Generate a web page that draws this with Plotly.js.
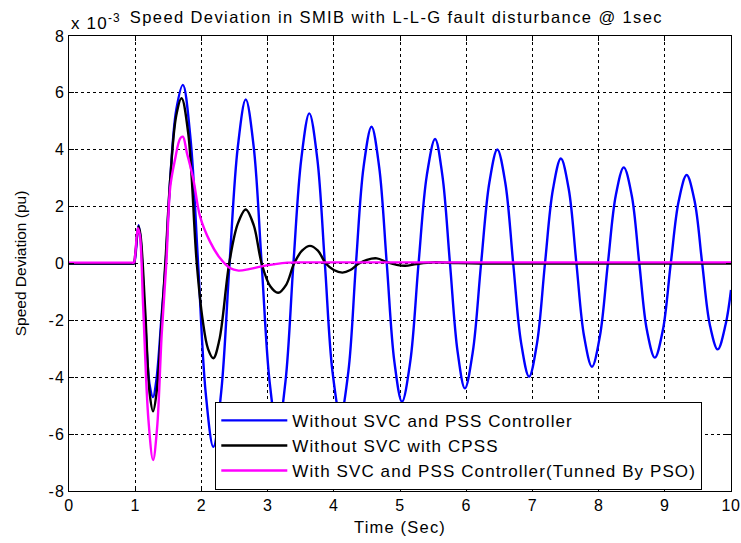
<!DOCTYPE html>
<html>
<head>
<meta charset="utf-8">
<script src="https://cdn.plot.ly/plotly-3.0.1.min.js"></script>
<style>
body{margin:0;padding:0;background:#fff;}
#chart{width:741px;height:543px;}
.gtitle{letter-spacing:1.4px;}
.legendtext{letter-spacing:1.1px;}
.xtitle{letter-spacing:1.2px;}
.xtick text{letter-spacing:0.5px;}
.ytick text{letter-spacing:1px;}
.annotation-text{letter-spacing:1.2px;}
</style>
</head>
<body>
<div id="chart"></div>
<script>
// Speed deviation values in units of 1e-3 pu
var blueT = [0, 0.5, 0.95, 0.98, 1.00, 1.05, 1.08, 1.15, 1.22, 1.27, 1.32, 1.40, 1.46, 1.53, 1.62, 1.72, 1.835, 1.95, 2.065, 2.18, 2.30, 2.425, 2.55, 2.67, 2.79, 2.91, 3.03, 3.15, 3.27, 3.39, 3.51, 3.63, 3.75, 3.865, 3.98, 4.10, 4.22, 4.335, 4.45, 4.57, 4.685, 4.80, 4.915, 5.03, 5.155, 5.28, 5.405, 5.53, 5.64, 5.755, 5.87, 5.98, 6.10, 6.225, 6.35, 6.47, 6.59, 6.71, 6.83, 6.95, 7.07, 7.19, 7.31, 7.43, 7.55, 7.665, 7.78, 7.90, 8.02, 8.14, 8.26, 8.38, 8.50, 8.615, 8.73, 8.85, 8.97, 9.09, 9.21, 9.33, 9.45, 9.565, 9.68, 9.80, 9.92, 10.0];
var blueV = [0, 0, 0, 0, 0.2, 1.35, 0.9, -2.0, -4.3, -4.7, -4.1, -1.8, 0, 3.0, 5.4, 6.28, 4.4, 0, -4.55, -6.45, -4.5, 0, 4.1, 5.77, 4.1, 0, -4.15, -5.9, -4.15, 0, 3.7, 5.28, 3.7, 0, -3.8, -5.35, -3.8, 0, 3.4, 4.81, 3.4, 0, -3.45, -4.86, -3.45, 0, 3.1, 4.38, 3.1, 0, -3.1, -4.39, -3.1, 0, 2.85, 4.01, 2.85, 0, -2.8, -3.98, -2.8, 0, 2.6, 3.69, 2.6, 0, -2.55, -3.63, -2.55, 0, 2.4, 3.38, 2.4, 0, -2.35, -3.31, -2.35, 0, 2.2, 3.11, 2.2, 0, -2.15, -3.02, -2.13, -0.93];

var blackT = [0, 0.5, 0.95, 0.98, 1.00, 1.05, 1.08, 1.15, 1.22, 1.27, 1.32, 1.40, 1.46, 1.53, 1.62, 1.70, 1.80, 1.93, 2.02, 2.10, 2.18, 2.27, 2.42, 2.55, 2.67, 2.79, 2.91, 3.04, 3.16, 3.28, 3.40, 3.52, 3.64, 3.76, 3.88, 4.00, 4.13, 4.25, 4.38, 4.50, 4.65, 4.80, 4.95, 5.08, 5.25, 5.50, 5.80, 6.20, 8.0, 10.0];
var blackV = [0, 0, 0, 0, 0.3, 1.3, 1.0, -1.6, -4.6, -5.2, -4.6, -2.0, 0.2, 3.0, 5.2, 5.81, 4.6, 0, -2.0, -3.0, -3.33, -2.7, 0, 1.4, 1.9, 1.35, 0, -0.8, -1.03, -0.75, 0, 0.45, 0.62, 0.45, 0, -0.23, -0.32, -0.23, 0, 0.13, 0.18, 0.05, -0.05, -0.08, -0.02, 0.04, 0.02, 0.0, 0.0, 0.0];

var magT = [0, 0.5, 0.95, 0.98, 1.00, 1.04, 1.07, 1.12, 1.20, 1.27, 1.33, 1.40, 1.47, 1.53, 1.60, 1.68, 1.72, 1.78, 1.88, 1.98, 2.13, 2.28, 2.43, 2.56, 2.72, 2.89, 3.09, 3.30, 3.60, 6.0, 10.0];
var magV = [0.03, 0.03, 0.03, 0.03, 0.3, 1.24, 1.0, -1.5, -5.5, -6.91, -5.8, -2.5, 0, 2.7, 3.64, 4.4, 4.46, 3.9, 2.94, 1.65, 0.77, 0.19, -0.16, -0.25, -0.2, -0.11, -0.03, 0.03, 0.04, 0.04, 0.04];

var seriesNames = ["Without SVC and PSS Controller", "Without SVC with CPSS", "With SVC and PSS Controller(Tunned By PSO)"];
var xTicks = [0,1,2,3,4,5,6,7,8,9,10];
var yTicks = [-8,-6,-4,-2,0,2,4,6,8];

var fontFam = "Arial, 'Liberation Sans', sans-serif";

var traces = [
  {x: blueT, y: blueV, name: seriesNames[0], mode: 'lines', line: {color: '#0000ff', width: 2.4, shape: 'spline', smoothing: 1}},
  {x: blackT, y: blackV, name: seriesNames[1], mode: 'lines', line: {color: '#000000', width: 2.4, shape: 'spline', smoothing: 1}},
  {x: magT, y: magV, name: seriesNames[2], mode: 'lines', line: {color: '#ff00ff', width: 2.4, shape: 'spline', smoothing: 1}}
];

var axisCommon = {
  showline: true, linecolor: '#000', linewidth: 1, mirror: 'ticks',
  ticks: 'inside', ticklen: 5, tickcolor: '#000',
  showgrid: true, gridcolor: '#000', gridwidth: 1, griddash: '3px,3px',
  zeroline: false, tickfont: {family: fontFam, size: 16, color: '#000'}
};

var layout = {
  width: 741, height: 543,
  margin: {l: 69, r: 10, t: 36, b: 52},
  paper_bgcolor: '#fff', plot_bgcolor: '#fff',
  font: {family: fontFam, color: '#000'},
  title: {text: 'Speed Deviation in SMIB with L-L-G fault disturbance @ 1sec', font: {family: fontFam, size: 16.5, color: '#000'}, x: 0.535, xanchor: 'center', y: 0.968, yanchor: 'middle'},
  xaxis: Object.assign({}, axisCommon, {range: [0, 10], tickvals: xTicks, ticktext: xTicks.map(String),
    title: {text: 'Time (Sec)', font: {family: fontFam, size: 16.5, color: '#000'}, standoff: 8}}),
  yaxis: Object.assign({}, axisCommon, {range: [-8, 8], tickvals: yTicks, ticktext: yTicks.map(String),
    title: {text: 'Speed Deviation (pu)', font: {family: fontFam, size: 15.5, color: '#000'}, standoff: 18}}),
  showlegend: true,
  legend: {x: 0.221, y: 0.196, xanchor: 'left', yanchor: 'top', bgcolor: '#fff', bordercolor: '#000', borderwidth: 1,
    font: {family: fontFam, size: 17, color: '#000'}, itemwidth: 66},
  annotations: [{xref: 'paper', yref: 'paper', x: 0, y: 1, xanchor: 'left', yanchor: 'bottom', yshift: 1, showarrow: false,
    text: 'x 10<sup>-3</sup>', font: {family: fontFam, size: 17, color: '#000'}}]
};

Plotly.newPlot('chart', traces, layout, {displayModeBar: false, staticPlot: true});
</script>
</body>
</html>
